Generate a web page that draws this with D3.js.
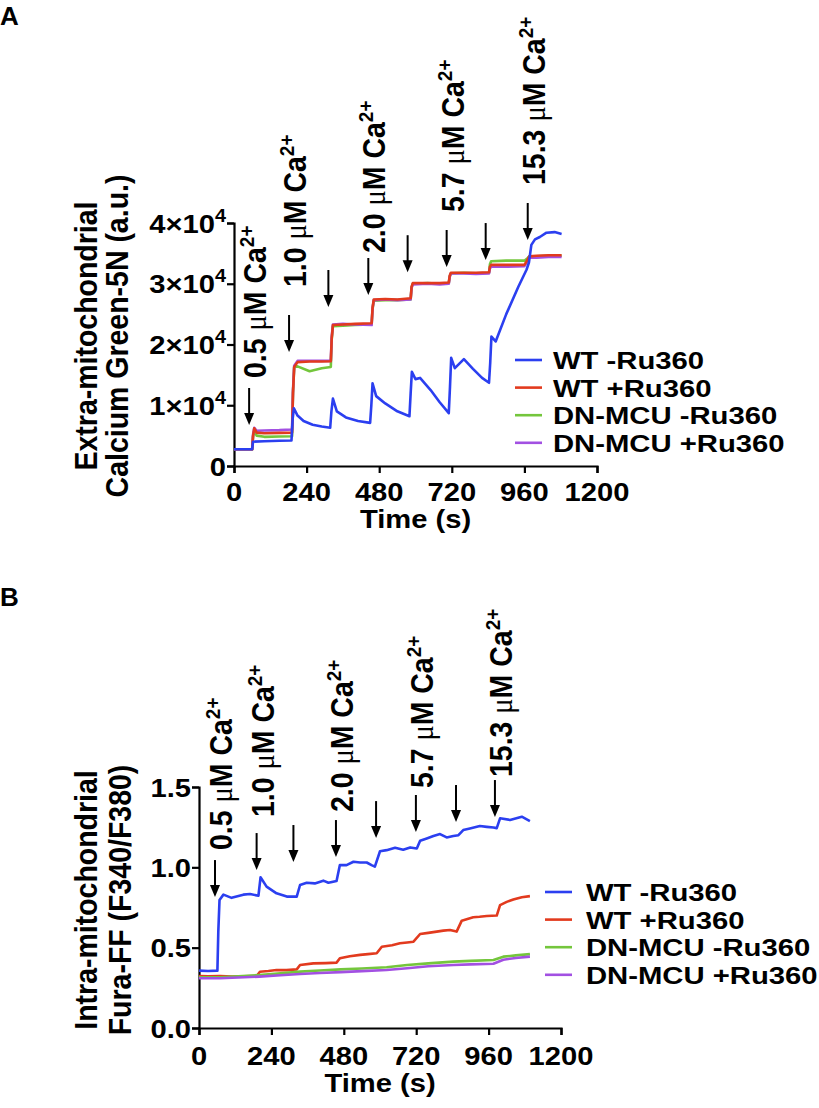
<!DOCTYPE html>
<html>
<head>
<meta charset="utf-8">
<script src="https://cdn.jsdelivr.net/npm/d3@7"></script>
<style>
  html, body { margin: 0; padding: 0; background: #fff; }
  svg { display: block; }
</style>
</head>
<body>
<svg id="chart" width="819" height="1108"></svg>
<script>
// ---------------- DATA ----------------
const seriesNames = ["WT -Ru360", "WT +Ru360", "DN-MCU -Ru360", "DN-MCU +Ru360"];
const seriesColors = ["#2b3ff0", "#e23a1e", "#74c63c", "#a250e2"];
const xTicks = [0, 240, 480, 720, 960, 1200];

// Panel A: extra-mitochondrial Calcium Green-5N (a.u.), [time s, value]
const aWTminus = [[0,2750],[30,2760],[60,2760],[63,4000],[100,4080],[150,4150],[190,4200],[194,7800],[198,9500],[210,8300],[230,7400],[260,6800],[290,6500],[318,6300],[322,9000],[327,11100],[340,9000],[370,8000],[410,7400],[450,7100],[454,10000],[458,13600],[470,11500],[500,10300],[540,9000],[580,8200],[584,12000],[588,15500],[600,14300],[615,14500],[650,12500],[680,10500],[710,8700],[714,13000],[718,17800],[730,16100],[760,17600],[790,16000],[820,14500],[843,13700],[847,17000],[851,21300],[865,20500],[900,25000],[940,29500],[967,32300],[975,33500],[983,36400],[995,37300],[1011,37700],[1033,38400],[1060,38500],[1083,38200]];
const aWTplus = [[0,2750],[60,2750],[63,5000],[67,6200],[75,5500],[100,5400],[150,5450],[192,5500],[195,12000],[199,16300],[210,17100],[250,17200],[290,17200],[320,17250],[323,21000],[327,23200],[360,23300],[400,23400],[455,23500],[458,26000],[462,27400],[500,27500],[540,27400],[584,27600],[587,29500],[591,30100],[640,30100],[680,30100],[710,30200],[713,31300],[717,31800],[760,31800],[800,31800],[843,31900],[846,32800],[850,33100],[900,33100],[960,33100],[970,33900],[976,34500],[1000,34600],[1040,34700],[1083,34700]];
const aDNminus = [[0,2750],[60,2750],[63,4800],[67,5800],[75,5000],[100,4800],[150,4850],[192,4900],[195,12000],[199,16300],[210,16400],[250,15600],[290,16100],[320,16300],[323,20800],[327,23000],[360,23100],[400,23200],[455,23300],[458,25800],[462,27200],[500,27300],[540,27300],[584,27400],[587,29400],[591,30000],[640,30100],[680,30000],[710,30100],[713,31200],[717,31700],[760,31800],[800,31700],[843,31800],[846,33200],[850,33700],[900,33800],[960,33800],[970,34200],[976,34500],[1000,34500],[1040,34600],[1083,34600]];
const aDNplus = [[0,2750],[60,2750],[63,5200],[67,6300],[75,5800],[100,5850],[150,5900],[192,6000],[195,12500],[199,16500],[210,17300],[250,17300],[290,17300],[320,17300],[323,21200],[327,23300],[360,23400],[400,23300],[455,23200],[458,25900],[462,27300],[500,27400],[540,27300],[584,27400],[587,29300],[591,29900],[640,30000],[680,29900],[710,30000],[713,31100],[717,31700],[760,31700],[800,31600],[843,31700],[846,32500],[850,32800],[900,32800],[960,32900],[970,33700],[976,34300],[1000,34300],[1040,34400],[1083,34400]];

// Panel B: intra-mitochondrial Fura-FF (F340/F380), [time s, ratio]
const bWTminus = [[0,0.357],[30,0.355],[61,0.357],[64,0.60],[68,0.797],[81,0.83],[108,0.81],[147,0.83],[169,0.834],[197,0.823],[204,0.938],[224,0.88],[257,0.838],[291,0.818],[324,0.818],[335,0.89],[357,0.904],[384,0.90],[412,0.917],[429,0.904],[456,0.915],[467,1.014],[489,1.014],[512,1.035],[534,1.03],[556,1.03],[572,1.014],[583,1.004],[600,1.10],[622,1.107],[650,1.122],[677,1.11],[700,1.124],[722,1.117],[733,1.166],[755,1.18],[777,1.195],[799,1.207],[821,1.186],[843,1.195],[860,1.20],[876,1.232],[898,1.242],[931,1.257],[954,1.252],[976,1.248],[987,1.244],[998,1.305],[1031,1.295],[1070,1.315],[1097,1.288]];
const bWTplus = [[0,0.324],[30,0.322],[70,0.324],[110,0.320],[150,0.322],[191,0.324],[202,0.350],[230,0.355],[257,0.361],[290,0.360],[324,0.365],[335,0.392],[379,0.402],[420,0.404],[456,0.407],[467,0.434],[500,0.447],[534,0.455],[560,0.460],[589,0.465],[606,0.506],[640,0.515],[666,0.527],[690,0.532],[711,0.537],[733,0.585],[760,0.592],[788,0.600],[810,0.606],[832,0.610],[854,0.600],[871,0.668],[909,0.689],[930,0.692],[954,0.697],[987,0.700],[998,0.765],[1020,0.785],[1042,0.800],[1070,0.814],[1097,0.821]];
const bDNminus = [[0,0.315],[70,0.316],[130,0.322],[200,0.330],[270,0.340],[335,0.351],[400,0.358],[470,0.365],[540,0.370],[622,0.378],[690,0.392],[760,0.402],[843,0.413],[900,0.418],[976,0.423],[1009,0.444],[1050,0.452],[1097,0.460]];
const bDNplus = [[0,0.310],[70,0.310],[130,0.314],[200,0.320],[270,0.328],[335,0.336],[400,0.342],[470,0.348],[540,0.354],[622,0.361],[690,0.372],[760,0.384],[843,0.392],[900,0.396],[976,0.400],[1009,0.425],[1050,0.436],[1097,0.444]];

// Ca2+ additions: arrow times, arrow tip value, label (empty = no label), label bottom value
const arrowTimesA = [50, 182, 312, 444, 574, 703, 832, 971];
const arrowTipsA = [6750, 18770, 26170, 28150, 31900, 32760, 33900, 37200];
const arrowTimesB = [53, 191, 313, 454, 587, 719, 852, 981];
const arrowTipsB = [0.815, 0.983, 1.033, 1.064, 1.182, 1.220, 1.282, 1.313];
const doseLabels = ["0.5", "1.0", "", "2.0", "", "5.7", "", "15.3"];
const labelBaseA = [14490, 29470, 0, 35060, 0, 41810, 0, 46260];
const labelBaseB = [1.108, 1.313, 0, 1.344, 0, 1.493, 0, 1.562];

const yTicksA = [0, 10000, 20000, 30000, 40000];
const yTickLabelsA = ["0", "1×10^4", "2×10^4", "3×10^4", "4×10^4"];
const yTicksB = [0, 0.5, 1.0, 1.5];
const yTickLabelsB = ["0.0", "0.5", "1.0", "1.5"];

// ---------------- DRAWING ----------------
const FONT = "'Liberation Sans', Arial, Helvetica, sans-serif";
const FS = 26.5;      // horizontal text size
const SX = 1.1;       // horizontal glyph stretch seen in the figure
const FSR = 28.5;     // rotated text size
const svg = d3.select("#chart");

function hText(parent, x, y, anchor, size, sx) {
  return parent.append("text")
    .attr("transform", `translate(${x},${y}) scale(${sx},1)`)
    .attr("text-anchor", anchor).attr("font-family", FONT).attr("font-weight", "bold")
    .attr("font-size", size);
}
function rText(parent, x, y, anchor) {
  return parent.append("text")
    .attr("transform", `translate(${x},${y}) scale(${SX},1) rotate(-90)`)
    .attr("text-anchor", anchor).attr("font-family", FONT).attr("font-weight", "bold")
    .attr("font-size", FSR);
}
function supText(sel, str, supSize) {
  const parts = str.split("^");
  sel.append("tspan").text(parts[0]);
  if (parts.length > 1) {
    sel.append("tspan").attr("dy", -11).attr("font-size", supSize).text(parts[1]);
  }
}

function drawPanel(cfg) {
  const g = svg.append("g");
  const x = d3.scaleLinear().domain([0, 1200]).range([cfg.x0, cfg.x1]);
  const y = d3.scaleLinear().domain(cfg.yDomain).range([cfg.y0, cfg.y1]);

  // axes
  const yAxis = d3.axisLeft(y).tickValues(cfg.yTicks).tickSize(7).tickFormat("");
  const xAxis = d3.axisBottom(x).tickValues(xTicks).tickSize(7).tickFormat("");
  const ya = g.append("g").attr("transform", `translate(${cfg.x0},0)`).call(yAxis);
  const xa = g.append("g").attr("transform", `translate(0,${cfg.y0})`).call(xAxis);
  [ya, xa].forEach(a => {
    a.select(".domain").attr("stroke", "#000").attr("stroke-width", 2.2);
    a.selectAll(".tick line").attr("stroke", "#000").attr("stroke-width", 2.2);
  });

  // y tick labels
  cfg.yTicks.forEach((v, i) => {
    const t = hText(g, cfg.x0 - 8, y(v) + 9.5, "end", FS, SX);
    supText(t, cfg.yTickLabels[i], 18);
  });
  // x tick labels
  xTicks.forEach(v => {
    hText(g, x(v), cfg.y0 + cfg.xLabDy, "middle", FS, SX).text(v);
  });
  hText(g, (cfg.x0 + cfg.x1) / 2, cfg.y0 + cfg.xTitleDy, "middle", FS, SX).text("Time (s)");

  // y title (two lines)
  cfg.yTitle.forEach((line, i) => {
    rText(g, cfg.titleX[i], cfg.titleY, "middle").text(line);
  });

  // lines
  const line = d3.line().x(d => x(d[0])).y(d => y(d[1]));
  cfg.order.forEach(k => {
    g.append("path").datum(cfg.series[k]).attr("d", line)
      .attr("fill", "none").attr("stroke", seriesColors[k]).attr("stroke-width", 2.6)
      .attr("stroke-linejoin", "round");
  });

  // arrows + dose labels
  cfg.arrowTimes.forEach((t, i) => {
    const ax = x(t), tip = y(cfg.arrowTips[i]);
    g.append("line").attr("x1", ax).attr("x2", ax).attr("y1", tip - 37).attr("y2", tip - 8)
      .attr("stroke", "#000").attr("stroke-width", 2);
    g.append("path").attr("d", `M${ax},${tip} L${ax - 5},${tip - 12} L${ax + 5},${tip - 12} Z`)
      .attr("fill", "#000");
    if (doseLabels[i]) {
      const t2 = rText(g, ax + 17, y(cfg.labelBase[i]), "start");
      t2.append("tspan").text(doseLabels[i] + " ");
      t2.append("tspan").attr("font-family", "'Liberation Serif', 'Times New Roman', serif")
        .attr("font-weight", "normal").text("μ");
      t2.append("tspan").text("M Ca");
      t2.append("tspan").attr("dy", -11).attr("font-size", 19).text("2+");
    }
  });

  // legend
  seriesNames.forEach((name, i) => {
    const ly = cfg.legY + i * cfg.legStep;
    g.append("line").attr("x1", cfg.legX).attr("x2", cfg.legX + 27).attr("y1", ly).attr("y2", ly)
      .attr("stroke", seriesColors[i]).attr("stroke-width", 2.6);
    hText(g, cfg.legX + cfg.legGap, ly + 9, "start", 24.6, 1.19).text(name);
  });

  // panel letter
  svg.append("text").attr("x", cfg.letterX).attr("y", cfg.letterY)
    .attr("font-family", FONT).attr("font-weight", "bold").attr("font-size", 26).text(cfg.letter);
}

drawPanel({
  letter: "A", letterX: 0, letterY: 25,
  x0: 234, x1: 597, y0: 466, y1: 223, yDomain: [0, 40000],
  yTicks: yTicksA, yTickLabels: yTickLabelsA, xLabDy: 35, xTitleDy: 62,
  yTitle: ["Extra-mitochondrial", "Calcium Green-5N (a.u.)"], titleX: [97, 128], titleY: 336,
  series: [aWTminus, aWTplus, aDNminus, aDNplus], order: [2, 3, 1, 0],
  arrowTimes: arrowTimesA, arrowTips: arrowTipsA, labelBase: labelBaseA,
  legX: 515, legGap: 38, legY: 360, legStep: 27.6
});

drawPanel({
  letter: "B", letterX: 0, letterY: 606,
  x0: 199, x1: 561, y0: 1028, y1: 787, yDomain: [0, 1.5],
  yTicks: yTicksB, yTickLabels: yTickLabelsB, xLabDy: 37, xTitleDy: 64,
  yTitle: ["Intra-mitochondrial", "Fura-FF (F340/F380)"], titleX: [97, 131], titleY: 900,
  series: [bWTminus, bWTplus, bDNminus, bDNplus], order: [0, 1, 2, 3],
  arrowTimes: arrowTimesB, arrowTips: arrowTipsB, labelBase: labelBaseB,
  legX: 545, legGap: 41, legY: 892, legStep: 27.6
});
</script>
</body>
</html>
